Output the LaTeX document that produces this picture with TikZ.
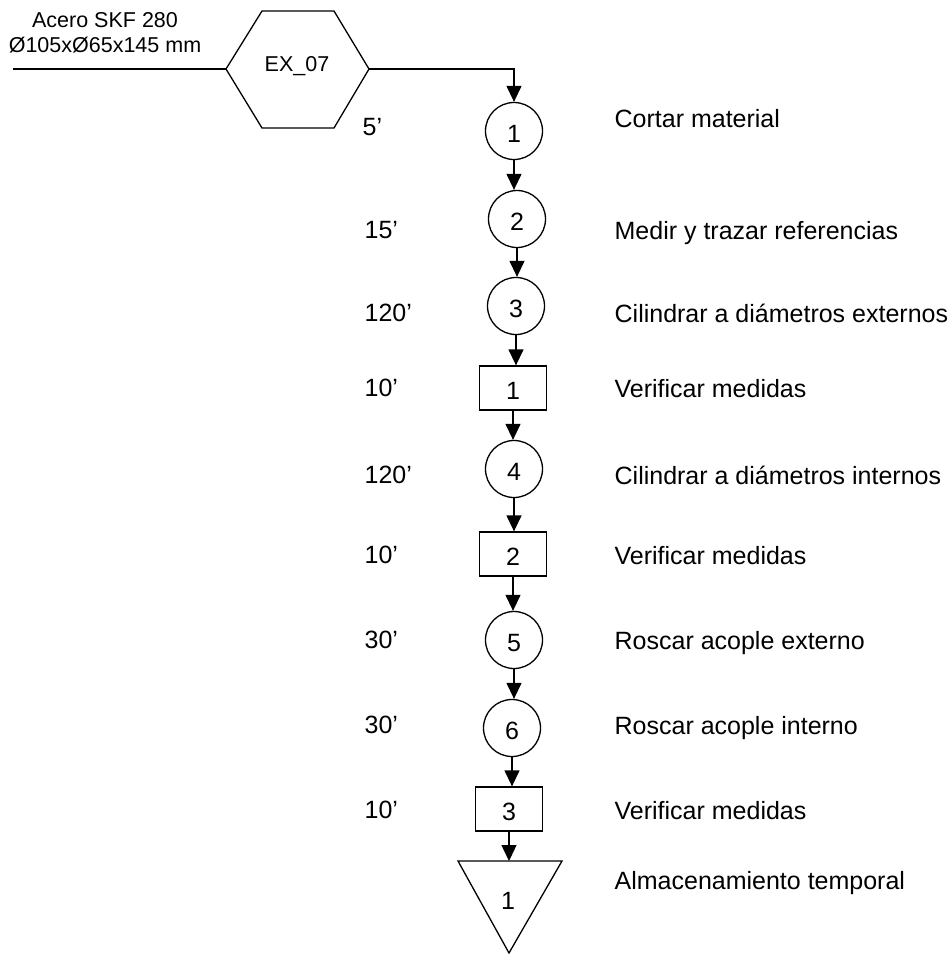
\documentclass[tikz,border=0pt]{standalone}
\usepackage{fontspec}
\setmainfont{Liberation Sans}
\usetikzlibrary{arrows.meta}
\begin{document}
\begin{tikzpicture}[x=1pt,y=-1pt,
  line width=1.3pt,
  arr/.style={-{Triangle[length=16pt,width=15pt]}},
  num/.style={inner sep=0pt, yshift=-3pt, font=\fontsize{25}{29}\selectfont},
  opcirc/.style={draw, circle, minimum size=57pt, inner sep=0pt},
  inspbox/.style={draw, rectangle, minimum width=67pt, minimum height=44pt, inner sep=0pt},
  steplabel/.style={anchor=base west, inner sep=0pt, font=\fontsize{25}{29}\selectfont},
  timelabel/.style={anchor=base west, inner sep=0pt, font=\fontsize{25}{29}\selectfont},
  small/.style={inner sep=0pt, font=\fontsize{21.5}{25.5}\selectfont}
]
\useasboundingbox (0,0) rectangle (952,954);

% raw material entry
\node[small, align=center] (mat) at (105,33) {Acero SKF 280\\Ø105xØ65x145 mm};
\coordinate (in) at (13,69);

% hexagon EX_07
\coordinate (hw) at (226,69);
\coordinate (hnw) at (262,11);
\coordinate (hne) at (334,11);
\coordinate (he) at (369,69);
\coordinate (hse) at (334,128);
\coordinate (hsw) at (262,128);
\draw (hw) -- (hnw) -- (hne) -- (he) -- (hse) -- (hsw) -- cycle;
\node[small] (ex) at (297,66) {EX\_07};
\draw (in) -- (hw);

% process symbols
\node[opcirc, label={[num]center:1}] (o1) at (514,131) {};
\node[opcirc, label={[num]center:2}] (o2) at (517,219) {};
\node[opcirc, label={[num]center:3}] (o3) at (516,306) {};
\node[inspbox, label={[num]center:1}] (i1) at (513,388) {};
\node[opcirc, label={[num]center:4}] (o4) at (514,469) {};
\node[inspbox, label={[num]center:2}] (i2) at (513,554) {};
\node[opcirc, label={[num]center:5}] (o5) at (514,640) {};
\node[opcirc, label={[num]center:6}] (o6) at (512,728) {};
\node[inspbox, label={[num]center:3}] (i3) at (509,809) {};

% storage triangle
\coordinate (tl) at (458,861);
\coordinate (tr) at (562,861);
\coordinate (tb) at (509,953);
\coordinate (ttop) at (509,861);
\draw (tl) -- (tr) -- (tb) -- cycle;
\node[num] (s1) at (508,898) {1};

% flow connectors
\draw[arr] (he) -| (o1.north);
\draw[arr] (o1.south) -- (o1.south |- o2.north);
\draw[arr] (o2.south) -- (o2.south |- o3.north);
\draw[arr] (o3.south) -- (o3.south |- i1.north);
\draw[arr] (i1.south) -- (i1.south |- o4.north);
\draw[arr] (o4.south) -- (o4.south |- i2.north);
\draw[arr] (i2.south) -- (i2.south |- o5.north);
\draw[arr] (o5.south) -- (o5.south |- o6.north);
\draw[arr] (o6.south) -- (o6.south |- i3.north);
\draw[arr] (i3.south) -- (ttop);

% times
\node[timelabel] (t1) at (362,135) {5’};
\node[timelabel] (t2) at (364,238) {15’};
\node[timelabel] (t3) at (364,321) {120’};
\node[timelabel] (t4) at (364,396) {10’};
\node[timelabel] (t5) at (364,483) {120’};
\node[timelabel] (t6) at (364,563) {10’};
\node[timelabel] (t7) at (364,648) {30’};
\node[timelabel] (t8) at (364,733) {30’};
\node[timelabel] (t9) at (364,818) {10’};

% descriptions
\node[steplabel] (d1) at (614,127) {Cortar material};
\node[steplabel] (d2) at (614,239) {Medir y trazar referencias};
\node[steplabel] (d3) at (614,322) {Cilindrar a diámetros externos};
\node[steplabel] (d4) at (614,397) {Verificar medidas};
\node[steplabel] (d5) at (614,484) {Cilindrar a diámetros internos};
\node[steplabel] (d6) at (614,564) {Verificar medidas};
\node[steplabel] (d7) at (614,649) {Roscar acople externo};
\node[steplabel] (d8) at (614,734) {Roscar acople interno};
\node[steplabel] (d9) at (614,819) {Verificar medidas};
\node[steplabel] (d10) at (614,889) {Almacenamiento temporal};
\end{tikzpicture}
\end{document}
